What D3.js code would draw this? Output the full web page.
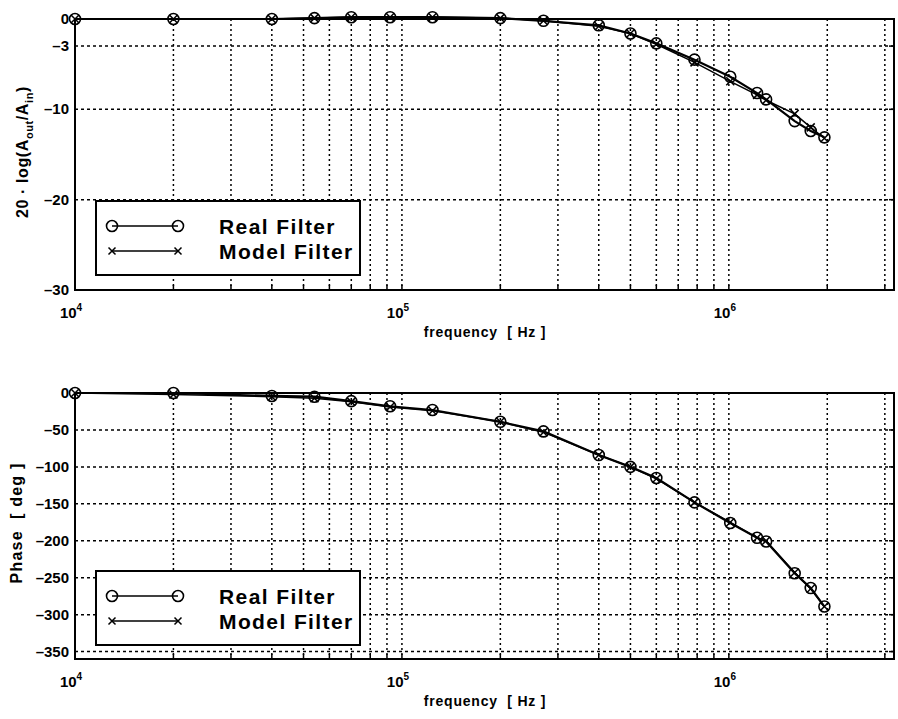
<!DOCTYPE html>
<html>
<head>
<meta charset="utf-8">
<script src="https://cdn.jsdelivr.net/npm/d3@7"></script>
<style>
  body { margin: 0; background: #fff; }
  svg { font-family: "Liberation Sans", Arial, sans-serif; font-weight: bold; }
</style>
</head>
<body>
<div id="chart"></div>
<script>
// measured frequencies (Hz)
var freq = [1e4, 2e4, 4e4, 5.4e4, 7e4, 9.2e4, 1.24e5, 2e5, 2.71e5, 4e5, 5e5, 6e5,
            7.85e5, 1.01e6, 1.22e6, 1.3e6, 1.59e6, 1.78e6, 1.96e6];
// gain 20 log(Aout/Ain)
var magReal  = [0, 0, 0, 0.1, 0.2, 0.2, 0.2, 0.1, -0.2, -0.7, -1.6, -2.7,
                -4.5, -6.4, -8.2, -8.9, -11.3, -12.4, -13.1];
var magModel = [0, 0, 0, 0.1, 0.2, 0.2, 0.2, 0.1, -0.2, -0.8, -1.6, -2.8,
                -4.8, -6.9, -8.4, -9.0, -10.5, -12.0, -13.2];
// phase in degrees
var phaseReal  = [0, 0, -4, -5, -11, -18, -23, -39, -52, -84, -100, -115,
                  -148, -176, -196, -201, -244, -264, -289];
var phaseModel = [0, -2, -5, -7, -12, -19, -24, -39, -53, -84, -100, -116,
                  -148, -175, -196, -200, -243, -265, -289];

var xDomain = [1e4, 3.2e6];
var xLabels = [[1e4, '4'], [1e5, '5'], [1e6, '6']];
var magTicks = [0, -3, -10, -20, -30];
var phaseTicks = [0, -50, -100, -150, -200, -250, -300, -350];
var legendNames = ['Real Filter', 'Model Filter'];

var width = 898, height = 719;
var left = 75, right = 894;

var svg = d3.select('#chart').append('svg')
            .attr('width', width)
            .attr('height', height);

// log-decade minor grid values
var gridX = [];
for (var p = 4; p <= 6; p++) {
  for (var k = 1; k <= 9; k++) {
    var v = k * Math.pow(10, p);
    if (v > xDomain[0] && v <= xDomain[1]) gridX.push(v);
  }
}

function drawPanel(opt) {
  var x = d3.scaleLog().domain(xDomain).range([left, right]);
  var y = d3.scaleLinear().domain(opt.yDomain).range([opt.bottom, opt.top]);
  var g = svg.append('g');

  // grid
  g.selectAll('.gx').data(gridX).enter().append('line')
    .attr('x1', d => x(d)).attr('x2', d => x(d))
    .attr('y1', opt.top).attr('y2', opt.bottom)
    .attr('stroke', '#000').attr('stroke-width', 1.5)
    .attr('stroke-dasharray', '2,3');
  g.selectAll('.gy').data(opt.ticks.filter(d => d !== opt.yDomain[0] && d !== opt.yDomain[1]))
    .enter().append('line')
    .attr('x1', left).attr('x2', right)
    .attr('y1', d => y(d)).attr('y2', d => y(d))
    .attr('stroke', '#000').attr('stroke-width', 1.5)
    .attr('stroke-dasharray', '3,3');

  // frame
  g.append('rect')
    .attr('x', left).attr('y', opt.top)
    .attr('width', right - left).attr('height', opt.bottom - opt.top)
    .attr('fill', 'none').attr('stroke', '#000').attr('stroke-width', 2);

  // small tick marks on the axes
  g.selectAll('.tx').data(gridX).enter().append('line')
    .attr('x1', d => x(d)).attr('x2', d => x(d))
    .attr('y1', opt.bottom).attr('y2', opt.bottom - 5)
    .attr('stroke', '#000').attr('stroke-width', 1.5);
  g.selectAll('.ty').data(opt.ticks).enter().append('line')
    .attr('x1', right).attr('x2', right - 5)
    .attr('y1', d => y(d)).attr('y2', d => y(d))
    .attr('stroke', '#000').attr('stroke-width', 1.5);

  // y tick labels
  g.selectAll('.yl').data(opt.ticks).enter().append('text')
    .attr('x', left - 6).attr('y', d => y(d) + 5)
    .attr('text-anchor', 'end')
    .attr('font-size', 15)
    .text(d => d === 0 ? '0' : '\u2013' + Math.abs(d));

  // x tick labels 10^n
  xLabels.forEach(function(t) {
    var tx = g.append('text')
      .attr('x', x(t[0]) - 4).attr('y', opt.bottom + 28)
      .attr('text-anchor', 'middle').attr('font-size', 15);
    tx.append('tspan').text('10');
    tx.append('tspan').attr('dy', -7).attr('font-size', 10).text(t[1]);
  });

  // x title
  g.append('text')
    .attr('x', 485).attr('y', opt.bottom + 47)
    .attr('text-anchor', 'middle').attr('font-size', 14)
    .attr('letter-spacing', 0.8)
    .attr('xml:space', 'preserve')
    .text('frequency  [ Hz ]');

  // y title
  var yt = g.append('text')
    .attr('transform', 'translate(' + opt.titleX + ',' + opt.titleY + ') rotate(-90)')
    .attr('text-anchor', 'middle').attr('font-size', 16)
    .attr('letter-spacing', opt.titleSpacing)
    .attr('xml:space', 'preserve');
  opt.title(yt);

  // curves
  var line = d3.line().x((d, i) => x(freq[i])).y(d => y(d));
  g.append('path').datum(opt.model)
    .attr('d', line).attr('fill', 'none')
    .attr('stroke', '#000').attr('stroke-width', 1.5);
  g.append('path').datum(opt.real)
    .attr('d', line).attr('fill', 'none')
    .attr('stroke', '#000').attr('stroke-width', 2.2);

  g.selectAll('.cx').data(opt.model).enter().append('path')
    .attr('transform', (d, i) => 'translate(' + x(freq[i]) + ',' + y(d) + ')')
    .attr('d', 'M-4,-4L4,4M-4,4L4,-4')
    .attr('stroke', '#000').attr('stroke-width', 1.5);
  g.selectAll('.ci').data(opt.real).enter().append('circle')
    .attr('cx', (d, i) => x(freq[i])).attr('cy', d => y(d))
    .attr('r', 5.5).attr('fill', 'none')
    .attr('stroke', '#000').attr('stroke-width', 1.6);

  // legend
  var lg = g.append('g');
  lg.append('rect')
    .attr('x', 96).attr('y', opt.legTop)
    .attr('width', 264).attr('height', 74)
    .attr('fill', '#fff').attr('stroke', '#000').attr('stroke-width', 2);
  var ly = [opt.legTop + 25, opt.legTop + 50];
  lg.append('line').attr('x1', 112).attr('x2', 178).attr('y1', ly[0]).attr('y2', ly[0])
    .attr('stroke', '#000').attr('stroke-width', 1.6);
  [112, 178].forEach(function(cx) {
    lg.append('circle').attr('cx', cx).attr('cy', ly[0]).attr('r', 5.5)
      .attr('fill', 'none').attr('stroke', '#000').attr('stroke-width', 1.6);
    lg.append('path').attr('transform', 'translate(' + cx + ',' + ly[1] + ')')
      .attr('d', 'M-3.5,-3.5L3.5,3.5M-3.5,3.5L3.5,-3.5')
      .attr('stroke', '#000').attr('stroke-width', 1.5);
  });
  lg.append('line').attr('x1', 112).attr('x2', 178).attr('y1', ly[1]).attr('y2', ly[1])
    .attr('stroke', '#000').attr('stroke-width', 1.3);
  legendNames.forEach(function(n, i) {
    lg.append('text')
      .attr('x', 219).attr('y', ly[i] + 8)
      .attr('font-size', 21).attr('letter-spacing', 1.4)
      .text(n);
  });
}

drawPanel({
  top: 19, bottom: 290, yDomain: [-30, 0], ticks: magTicks,
  real: magReal, model: magModel, legTop: 201,
  titleX: 28, titleY: 152, titleSpacing: 0.6,
  title: function(t) {
    t.append('tspan').text('20 \u00b7 log(A');
    t.append('tspan').attr('dy', 5).attr('font-size', 11).text('out');
    t.append('tspan').attr('dy', -5).text('/A');
    t.append('tspan').attr('dy', 5).attr('font-size', 11).text('in');
    t.append('tspan').attr('dy', -5).text(')');
  }
});

drawPanel({
  top: 393, bottom: 659, yDomain: [-360, 0], ticks: phaseTicks,
  real: phaseReal, model: phaseModel, legTop: 571,
  titleX: 22, titleY: 523, titleSpacing: 1.2,
  title: function(t) { t.text('Phase  [ deg ]'); }
});
</script>
</body>
</html>
